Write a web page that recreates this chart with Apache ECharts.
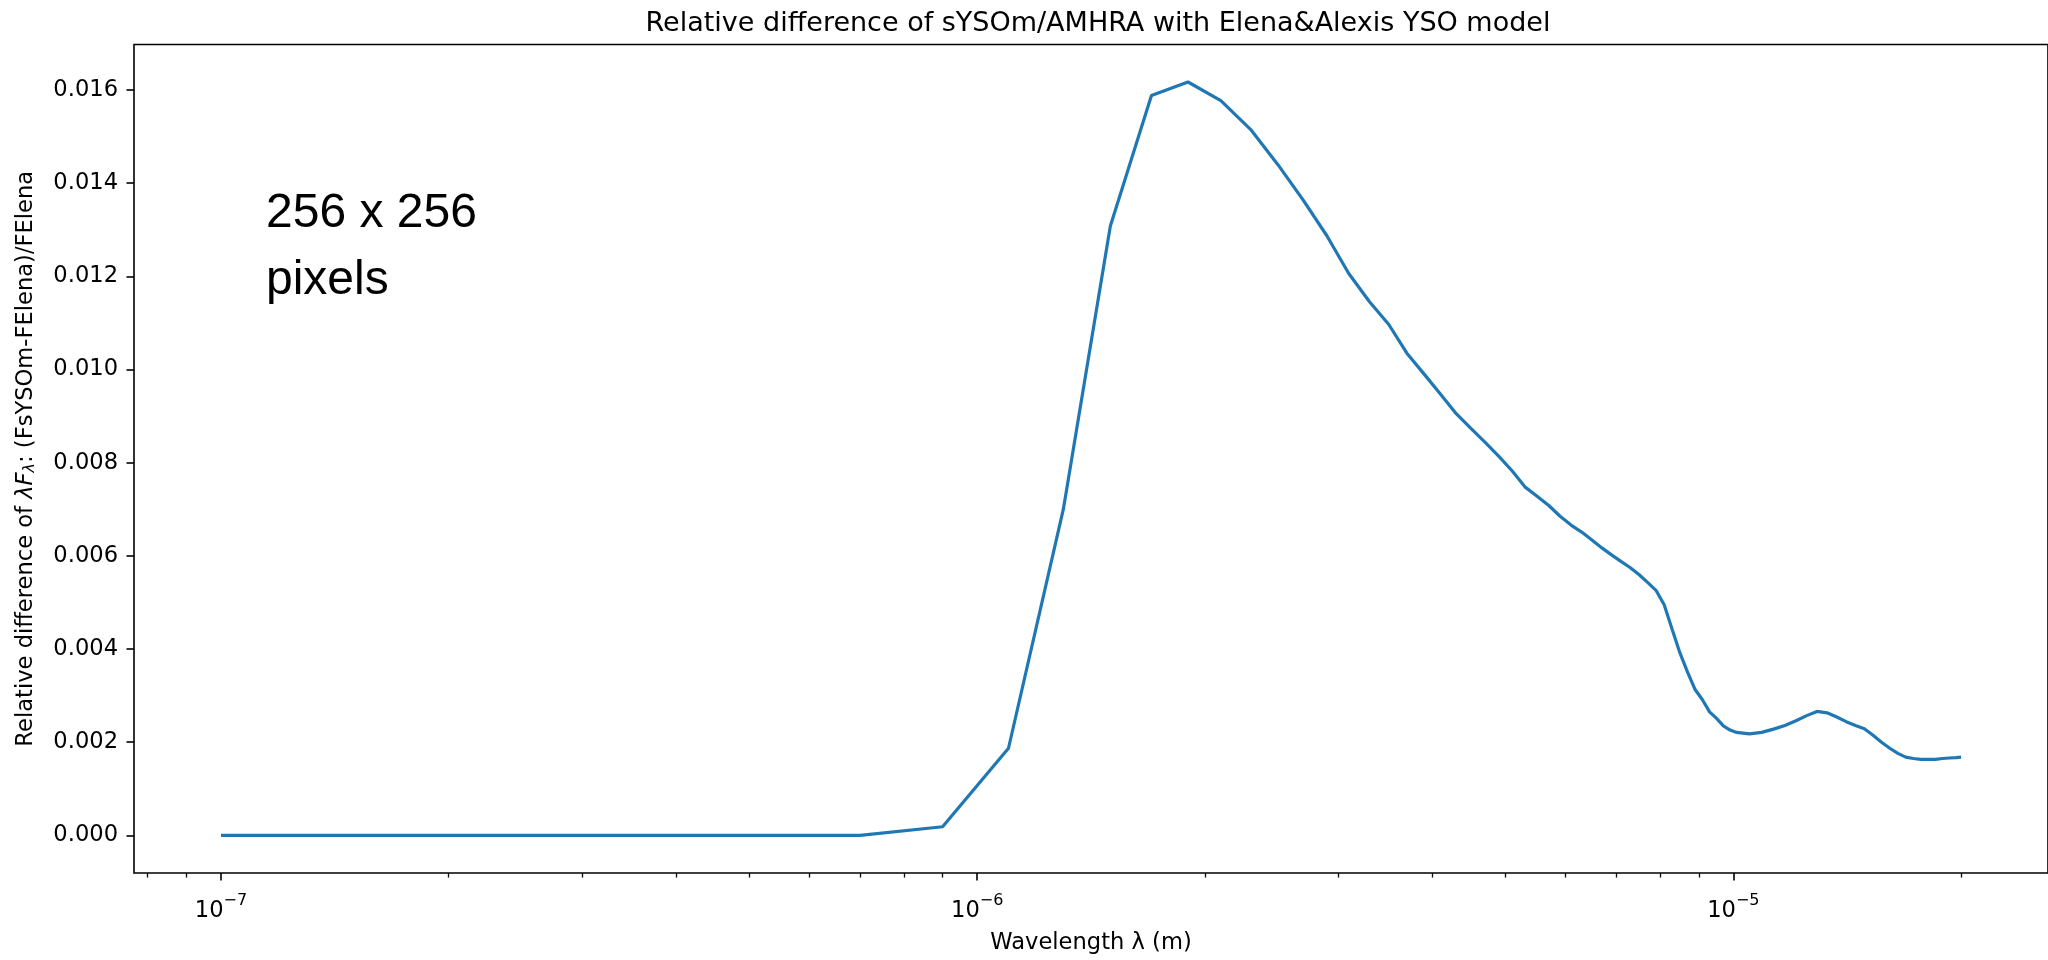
<!DOCTYPE html>
<html>
<head>
<meta charset="utf-8">
<script src="https://cdn.jsdelivr.net/npm/echarts@6/dist/echarts.min.js"></script>
<style>
html,body{margin:0;padding:0;background:#fff;}
#chart{width:2048px;height:960px;}
</style>
</head>
<body>
<div id="chart"></div>
<script>
// Wavelengths in micrometres
const wavelengthsUm = [0.1,0.3,0.5,0.7,0.9,1.1,1.3,1.5,1.7,1.9,
  2.1,2.3,2.5,2.7,2.9,3.1,3.3,3.5,3.7,3.9,
  4.1,4.3,4.5,4.7,4.9,5.1,5.3,5.5,5.7,5.9,
  6.1,6.3,6.5,6.7,6.9,7.1,7.3,7.5,7.7,7.9,
  8.1,8.3,8.5,8.7,8.9,9.1,9.3,9.5,9.7,9.9,
  10.1,10.5,10.9,11.3,11.7,12.1,12.5,12.9,13.3,13.7,
  14.1,14.5,14.9,15.3,15.7,16.1,16.5,16.9,17.3,17.7,
  18.1,18.5,18.9,19.3,19.7,20.0];
// Relative difference (FsYSOm-FElena)/FElena
const relDiff = [0,0,0,0,0.000184,0.00187,0.0070,0.01308,0.01588,0.01617,
  0.01577,0.01515,0.01439,0.01363,0.01287,0.01206,0.01146,0.01097,0.01035,0.00990,
  0.00947,0.00905,0.00873,0.00843,0.00813,0.00782,0.00748,0.00728,0.00708,0.00685,
  0.00666,0.00651,0.00634,0.00617,0.00602,0.00588,0.00575,0.00560,0.00543,0.00526,
  0.00495,0.00442,0.00391,0.00350,0.00313,0.00291,0.00265,0.00251,0.00235,0.00226,
  0.00221,0.00218,0.00221,0.00228,0.00236,0.00246,0.00257,0.00266,0.00263,0.00254,
  0.00244,0.00236,0.00229,0.00215,0.00200,0.00187,0.00176,0.00168,0.00165,0.00163,
  0.00163,0.00163,0.00165,0.00166,0.00167,0.00168];
const xMajorTicks = [1e-7, 1e-6, 1e-5];
const xMinorTicks = [8e-8, 9e-8,
  2e-7, 3e-7, 4e-7, 5e-7, 6e-7, 7e-7, 8e-7, 9e-7,
  2e-6, 3e-6, 4e-6, 5e-6, 6e-6, 7e-6, 8e-6, 9e-6,
  2e-5];
const yTicks = [0, 0.002, 0.004, 0.006, 0.008, 0.010, 0.012, 0.014, 0.016];
const titleText = 'Relative difference of sYSOm/AMHRA with Elena&Alexis YSO model';
const annotationText = '256 x 256\npixels';

const seriesData = wavelengthsUm.map((w, i) => [w * 1e-6, relDiff[i]]);

const FONT = 'DejaVu Sans';
const xMin = Math.pow(10, -7.11505);
const xMax = Math.pow(10, -4.58395);

const chart = echarts.init(document.getElementById('chart'), null, {renderer: 'canvas'});
chart.setOption({
  animation: false,
  backgroundColor: '#fff',
  title: {
    text: titleText,
    left: 1093,
    textAlign: 'center',
    top: 5,
    textStyle: {fontFamily: FONT, fontSize: 27, fontWeight: 'normal', color: '#000'}
  },
  grid: {
    left: 134, top: 44.5, width: 1919, height: 832,
    show: true, borderColor: '#000', borderWidth: 1.6, backgroundColor: 'transparent'
  },
  xAxis: [{
    type: 'log', logBase: 10, min: xMin, max: xMax,
    name: 'Wavelength λ (m)', nameLocation: 'middle', nameGap: 59,
    nameTextStyle: {fontFamily: FONT, fontSize: 22.6, color: '#000'},
    axisLine: {show: false, onZero: false},
    splitLine: {show: false},
    minorTick: {show: false},
    axisTick: {show: true, customValues: xMajorTicks, length: 7.5, lineStyle: {color: '#000', width: 1.6}},
    axisLabel: {
      customValues: xMajorTicks, margin: 20,
      formatter: v => '{b|10}{s|\u2212' + Math.round(-Math.log10(v)) + '}',
      rich: {
        b: {fontFamily: FONT, fontSize: 22.6, color: '#000', verticalAlign: 'bottom', lineHeight: 30},
        s: {fontFamily: FONT, fontSize: 16, color: '#000', verticalAlign: 'top', lineHeight: 30}
      }
    }
  }, {
    type: 'log', logBase: 10, min: xMin, max: xMax, gridIndex: 0, position: 'bottom',
    axisLine: {show: false, onZero: false}, splitLine: {show: false},
    axisTick: {show: true, customValues: xMinorTicks, length: 4.5, lineStyle: {color: '#000', width: 1.3}},
    axisLabel: {show: false}
  }],
  yAxis: {
    type: 'value', min: -0.000808, max: 0.016975,
    name: 'Relative difference of {it|λF}{sub|λ}: (FsYSOm-FElena)/FElena',
    nameLocation: 'middle', nameGap: 96, nameRotate: 90,
    nameTextStyle: {
      fontFamily: FONT, fontSize: 22.6, color: '#000',
      rich: {
        it: {fontFamily: FONT, fontSize: 22.6, fontStyle: 'italic', color: '#000'},
        sub: {fontFamily: FONT, fontSize: 16, fontStyle: 'italic', color: '#000', verticalAlign: 'bottom', padding: [8, 0, 0, 0]}
      }
    },
    axisLine: {show: false, onZero: false},
    splitLine: {show: false},
    axisTick: {show: true, customValues: yTicks, length: 7.5, lineStyle: {color: '#000', width: 1.6}},
    axisLabel: {
      customValues: yTicks, margin: 16,
      formatter: v => v.toFixed(3),
      fontFamily: FONT, fontSize: 22.6, color: '#000'
    }
  },
  graphic: [{
    type: 'text', left: 266, top: 180,
    style: {text: annotationText, font: '48px "Liberation Sans"', fill: '#000', lineHeight: 67}
  }],
  series: [{
    type: 'line', xAxisIndex: 0, yAxisIndex: 0,
    data: seriesData, showSymbol: false, smooth: false,
    lineStyle: {color: '#1f77b4', width: 3.2},
    itemStyle: {color: '#1f77b4'}
  }]
});
</script>
</body>
</html>
